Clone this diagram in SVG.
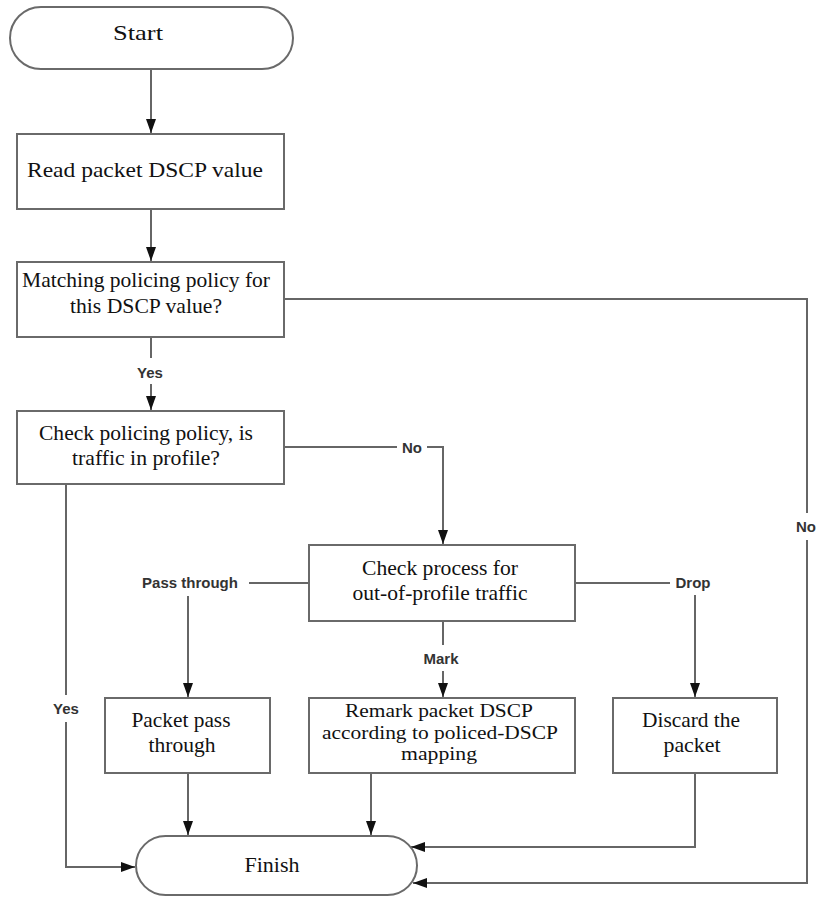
<svg xmlns="http://www.w3.org/2000/svg" width="818" height="897" viewBox="0 0 818 897">
<style>
.box{fill:#fff;stroke:#6a6a6a;stroke-width:2}
.t{font-family:"Liberation Serif","DejaVu Serif","Times New Roman",serif;font-size:21px;fill:#111;text-anchor:middle}
.s{font-size:19px}
.lbl{font-family:"Liberation Sans",Arial,sans-serif;font-size:15px;font-weight:bold;fill:#333;text-anchor:middle}
.ln{fill:none;stroke:#666;stroke-width:2}
</style>
<defs>
<marker id="ah" viewBox="0 0 14 10" refX="14" refY="5" markerWidth="14" markerHeight="10" markerUnits="userSpaceOnUse" orient="auto">
<path d="M0,0 L14,5 L0,10 z" fill="#111"/>
</marker>
</defs>
<rect width="818" height="897" fill="#fff"/>
<g id="connectors">
<path class="ln" d="M151,69 V133" marker-end="url(#ah)"/>
<path class="ln" d="M151,209 V261" marker-end="url(#ah)"/>
<path class="ln" d="M151,337 V358"/>
<path class="ln" d="M151,384 V410" marker-end="url(#ah)"/>
<path class="ln" d="M284,299 H807 V513"/>
<path class="ln" d="M807,540 V883 H413" marker-end="url(#ah)"/>
<path class="ln" d="M284,447 H397"/>
<path class="ln" d="M427,447 H443 V544" marker-end="url(#ah)"/>
<path class="ln" d="M66,484 V695"/>
<path class="ln" d="M66,722 V867 H135" marker-end="url(#ah)"/>
<path class="ln" d="M309,583 H249"/>
<path class="ln" d="M188,596 V697" marker-end="url(#ah)"/>
<path class="ln" d="M575,583 H670"/>
<path class="ln" d="M695,595 V697" marker-end="url(#ah)"/>
<path class="ln" d="M443,621 V645"/>
<path class="ln" d="M443,671 V697" marker-end="url(#ah)"/>
<path class="ln" d="M188,773 V835" marker-end="url(#ah)"/>
<path class="ln" d="M371,773 V835" marker-end="url(#ah)"/>
<path class="ln" d="M695,773 V847 H411" marker-end="url(#ah)"/>
<text class="lbl" x="150" y="378">Yes</text>
<text class="lbl" x="412" y="453">No</text>
<text class="lbl" x="806" y="532">No</text>
<text class="lbl" x="190" y="588">Pass through</text>
<text class="lbl" x="693" y="588">Drop</text>
<text class="lbl" x="441" y="664">Mark</text>
<text class="lbl" x="66" y="714">Yes</text>
</g>
<g id="start">
<rect class="box" x="10" y="7" width="283" height="62" rx="31"/>
<text class="t" x="138" y="40" textLength="50" lengthAdjust="spacingAndGlyphs">Start</text>
</g>
<g id="read">
<rect class="box" x="17" y="134" width="267" height="75"/>
<text class="t" x="145" y="177" textLength="236" lengthAdjust="spacingAndGlyphs">Read packet DSCP value</text>
</g>
<g id="matching">
<rect class="box" x="17" y="262" width="267" height="75"/>
<text class="t" x="146" y="287" textLength="248" lengthAdjust="spacingAndGlyphs">Matching policing policy for</text>
<text class="t" x="146" y="313" textLength="152" lengthAdjust="spacingAndGlyphs">this DSCP value?</text>
</g>
<g id="checkpolicy">
<rect class="box" x="17" y="411" width="267" height="73"/>
<text class="t" x="146" y="440" textLength="214" lengthAdjust="spacingAndGlyphs">Check policing policy, is</text>
<text class="t" x="146" y="465" textLength="148" lengthAdjust="spacingAndGlyphs">traffic in profile?</text>
</g>
<g id="checkprocess">
<rect class="box" x="309" y="545" width="266" height="76"/>
<text class="t" x="440" y="575" textLength="156" lengthAdjust="spacingAndGlyphs">Check process for</text>
<text class="t" x="440" y="600" textLength="175" lengthAdjust="spacingAndGlyphs">out-of-profile traffic</text>
</g>
<g id="passthrough">
<rect class="box" x="105" y="698" width="165" height="75"/>
<text class="t" x="181" y="727" textLength="99" lengthAdjust="spacingAndGlyphs">Packet pass</text>
<text class="t" x="182" y="752" textLength="67" lengthAdjust="spacingAndGlyphs">through</text>
</g>
<g id="remark">
<rect class="box" x="309" y="698" width="266" height="75"/>
<text class="t s" x="439" y="717" textLength="188" lengthAdjust="spacingAndGlyphs">Remark packet DSCP</text>
<text class="t s" x="440" y="739" textLength="236" lengthAdjust="spacingAndGlyphs">according to policed-DSCP</text>
<text class="t s" x="439" y="760" textLength="76" lengthAdjust="spacingAndGlyphs">mapping</text>
</g>
<g id="discard">
<rect class="box" x="613" y="698" width="164" height="75"/>
<text class="t" x="691" y="727" textLength="98" lengthAdjust="spacingAndGlyphs">Discard the</text>
<text class="t" x="692" y="752" textLength="57" lengthAdjust="spacingAndGlyphs">packet</text>
</g>
<g id="finish">
<rect class="box" x="136" y="836" width="281" height="59" rx="29.5"/>
<text class="t" x="272" y="872" textLength="55" lengthAdjust="spacingAndGlyphs">Finish</text>
</g>
</svg>
